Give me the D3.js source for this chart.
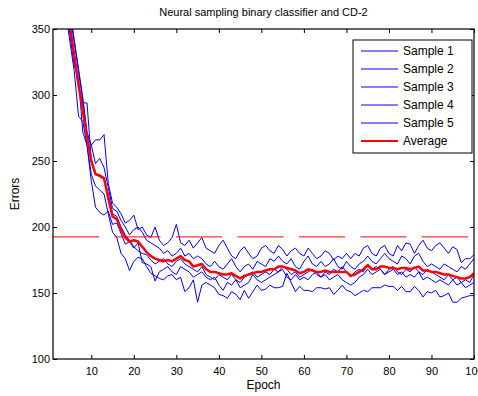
<!DOCTYPE html>
<html>
<head>
<meta charset="utf-8">
<script src="https://cdn.jsdelivr.net/npm/d3@7"></script>
<style>
  body { margin: 0; background: #fff; }
  svg { display: block; font-family: "Liberation Sans", Arial, Helvetica, sans-serif; }
</style>
</head>
<body>
<div id="chart"></div>
<script>
// 数据 (每个 epoch 的错误数, 从图上读取)
const sample1 = [
  470, 440, 405, 380, 360, 340, 318, 296, 270, 262,
  248, 252, 245, 230, 214, 212, 205, 200, 194, 198,
  200, 196, 190, 188, 186, 184, 180, 182, 178, 180,
  184, 178, 180, 176, 178, 176, 172, 170, 174, 170,
  168, 172, 176, 170, 166, 170, 172, 168, 174, 172,
  170, 176, 174, 178, 174, 172, 176, 170, 168, 174,
  178, 172, 170, 174, 170, 172, 176, 170, 168, 174,
  170, 168, 172, 174, 178, 174, 172, 176, 180, 176,
  174, 172, 178, 176, 172, 178, 180, 174, 170, 172,
  170, 168, 172, 170, 168, 166, 170, 168, 172, 176
];
const sample2 = [
  440, 410, 385, 362, 340, 318, 284, 280, 262, 240,
  231, 228, 225, 210, 196, 192, 180, 176, 167, 174,
  177, 176, 170, 165, 163, 161, 160, 163, 164, 160,
  162, 151, 154, 160, 143, 156, 158, 156, 154, 149,
  148, 146, 151, 149, 145, 152, 146, 151, 156, 152,
  153, 156, 154, 154, 155, 165, 158, 151, 155, 152,
  152, 151, 154, 154, 153, 154, 149, 152, 156, 152,
  151, 148, 150, 152, 151, 154, 154, 154, 156, 155,
  155, 152, 155, 151, 151, 155, 152, 147, 151, 150,
  152, 147, 148, 150, 143, 143, 146, 147, 148, 148
];
const sample3 = [
  460, 430, 400, 372, 350, 328, 305, 294, 294, 251,
  240, 238, 236, 225, 210, 208, 200, 194, 190, 185,
  182, 180, 179, 175, 172, 174, 176, 172, 170, 174,
  176, 172, 170, 168, 166, 170, 164, 162, 160, 164,
  162, 160, 164, 160, 158, 162, 164, 166, 162, 164,
  166, 164, 168, 166, 170, 168, 164, 166, 162, 164,
  166, 168, 164, 162, 166, 164, 168, 166, 170, 166,
  162, 166, 168, 166, 172, 168, 170, 168, 164, 168,
  170, 166, 164, 168, 166, 170, 166, 164, 168, 166,
  164, 162, 160, 164, 160, 162, 158, 160, 158, 164
];
const sample4 = [
  465, 435, 410, 385, 365, 342, 320, 298, 272, 262,
  266, 266, 270, 233, 218, 215, 210, 203, 205, 209,
  198, 200, 194, 192, 200, 190, 186, 188, 192, 202,
  188, 186, 190, 184, 188, 192, 184, 182, 180, 186,
  190, 184, 178, 176, 182, 185, 180, 176, 178, 184,
  186, 182, 180, 186, 183, 178, 182, 184, 180, 178,
  184, 180, 176, 178, 182, 180, 175, 178, 176, 180,
  176, 180, 178, 184, 186, 180, 178, 184, 186, 180,
  178, 186, 182, 188, 187, 180, 186, 190, 184, 182,
  186, 188, 184, 180, 185, 183, 173, 176, 176, 179
];
const sample5 = [
  440, 410, 390, 370, 345, 322, 313, 272, 262, 235,
  215, 211, 209, 212, 202, 203, 195, 187, 189, 184,
  188, 173, 172, 170, 159, 166, 168, 170, 166, 164,
  170, 168, 166, 162, 164, 166, 162, 160, 162, 156,
  152, 158, 156, 160, 154, 156, 158, 164, 160, 158,
  160, 162, 164, 166, 168, 162, 160, 164, 160, 162,
  160, 164, 166, 162, 164, 160, 162, 164, 160, 158,
  156, 158, 162, 164, 168, 164, 166, 168, 164, 166,
  168, 164, 166, 162, 164, 162, 166, 160, 162, 160,
  158, 160, 158, 156, 160, 156, 158, 154, 156, 158
];
const average = [
  455, 425, 398, 374, 352, 330, 308, 288, 268, 250,
  240, 239, 237, 222, 208, 206, 198, 192, 189, 190,
  189, 185, 181, 178, 176, 175, 174, 175, 174, 176,
  178, 175, 174, 170, 171, 172, 168, 166, 166, 165,
  164, 164, 165, 163, 161, 163, 164, 165, 166, 166,
  167, 168, 168, 170, 170, 169, 168, 167, 165, 166,
  168, 167, 166, 166, 167, 166, 166, 166, 166, 166,
  163, 164, 166, 168, 171, 168, 168, 170, 170, 169,
  169, 168, 169, 169, 168, 169, 170, 167, 167, 166,
  166, 165, 164, 164, 163, 162, 161, 161, 162, 165
];
const threshold = 192.5;
const seriesNames = ["Sample 1", "Sample 2", "Sample 3", "Sample 4", "Sample 5", "Average"];
const xTicks = [10, 20, 30, 40, 50, 60, 70, 80, 90, 100];
const yTicks = [100, 150, 200, 250, 300, 350];

const width = 478, height = 396;
const margin = {top: 29, right: 4, bottom: 37, left: 53};
const plotWidth = width - margin.left - margin.right;
const plotHeight = height - margin.top - margin.bottom;

const samples = [sample1, sample2, sample3, sample4, sample5];

const xScale = d3.scaleLinear().domain([1, 100]).range([0, plotWidth]);
const yScale = d3.scaleLinear().domain([100, 350]).range([plotHeight, 0]);

const svg = d3.select("#chart").append("svg")
    .attr("width", width)
    .attr("height", height);

const g = svg.append("g")
    .attr("transform", `translate(${margin.left},${margin.top})`);

g.append("clipPath").attr("id", "clip")
  .append("rect").attr("width", plotWidth).attr("height", plotHeight);

const line = d3.line()
    .x((d, i) => xScale(i + 1))
    .y(d => yScale(d));

const plot = g.append("g").attr("clip-path", "url(#clip)");

// 样本曲线
samples.forEach(s => {
    plot.append("path")
        .datum(s)
        .attr("fill", "none")
        .attr("stroke", "#0000ff")
        .attr("stroke-width", 1)
        .attr("d", line);
});

// 阈值虚线
plot.append("line")
    .attr("x1", 0).attr("x2", plotWidth)
    .attr("y1", yScale(threshold)).attr("y2", yScale(threshold))
    .attr("stroke", "#ff0000")
    .attr("stroke-width", 1)
    .attr("stroke-dasharray", "46,15.5");

// 平均曲线
plot.append("path")
    .datum(average)
    .attr("fill", "none")
    .attr("stroke", "#ff0000")
    .attr("stroke-width", 2.5)
    .attr("stroke-linejoin", "round")
    .attr("d", line);

// 坐标轴 (MATLAB 风格, 刻度朝内, 四边都有)
function styleAxis(sel) {
    sel.select(".domain").remove();
    sel.selectAll(".tick line").attr("stroke", "#000");
    sel.selectAll(".tick text").attr("fill", "#000").style("font-size", "11px");
}

g.append("g")
    .attr("transform", `translate(0,${plotHeight})`)
    .call(d3.axisBottom(xScale).tickValues(xTicks).tickSize(-4).tickPadding(8))
    .call(styleAxis);

g.append("g")
    .call(d3.axisTop(xScale).tickValues(xTicks).tickSize(-4).tickFormat(""))
    .call(styleAxis);

g.append("g")
    .call(d3.axisLeft(yScale).tickValues(yTicks).tickSize(-4).tickPadding(3))
    .call(styleAxis);

g.append("g")
    .attr("transform", `translate(${plotWidth},0)`)
    .call(d3.axisRight(yScale).tickValues(yTicks).tickSize(-4).tickFormat(""))
    .call(styleAxis);

g.append("rect")
    .attr("width", plotWidth)
    .attr("height", plotHeight)
    .attr("fill", "none")
    .attr("stroke", "#000")
    .attr("stroke-width", 1.2);

// 标题和标签
svg.append("text")
    .attr("x", margin.left + plotWidth / 2)
    .attr("y", 16)
    .attr("text-anchor", "middle")
    .style("font-size", "11px")
    .text("Neural sampling binary classifier and CD-2");

svg.append("text")
    .attr("x", margin.left + plotWidth / 2)
    .attr("y", 389)
    .attr("text-anchor", "middle")
    .style("font-size", "12px")
    .text("Epoch");

svg.append("text")
    .attr("transform", `translate(19,${margin.top + plotHeight / 2}) rotate(-90)`)
    .attr("text-anchor", "middle")
    .style("font-size", "12px")
    .text("Errors");

// 图例
const legend = svg.append("g")
    .attr("transform", "translate(353,40)");

legend.append("rect")
    .attr("width", 119)
    .attr("height", 113)
    .attr("fill", "#fff")
    .attr("stroke", "#000")
    .attr("stroke-width", 1);

seriesNames.forEach((name, i) => {
    const isAvg = name === "Average";
    const row = legend.append("g")
        .attr("transform", `translate(0,${11 + i * 18})`);
    row.append("line")
        .attr("x1", 8).attr("x2", 45)
        .attr("stroke", isAvg ? "#ff0000" : "#0000ff")
        .attr("stroke-width", isAvg ? 2 : 1);
    row.append("text")
        .attr("x", 50)
        .attr("y", 4)
        .style("font-size", "12px")
        .text(name);
});
</script>
</body>
</html>
